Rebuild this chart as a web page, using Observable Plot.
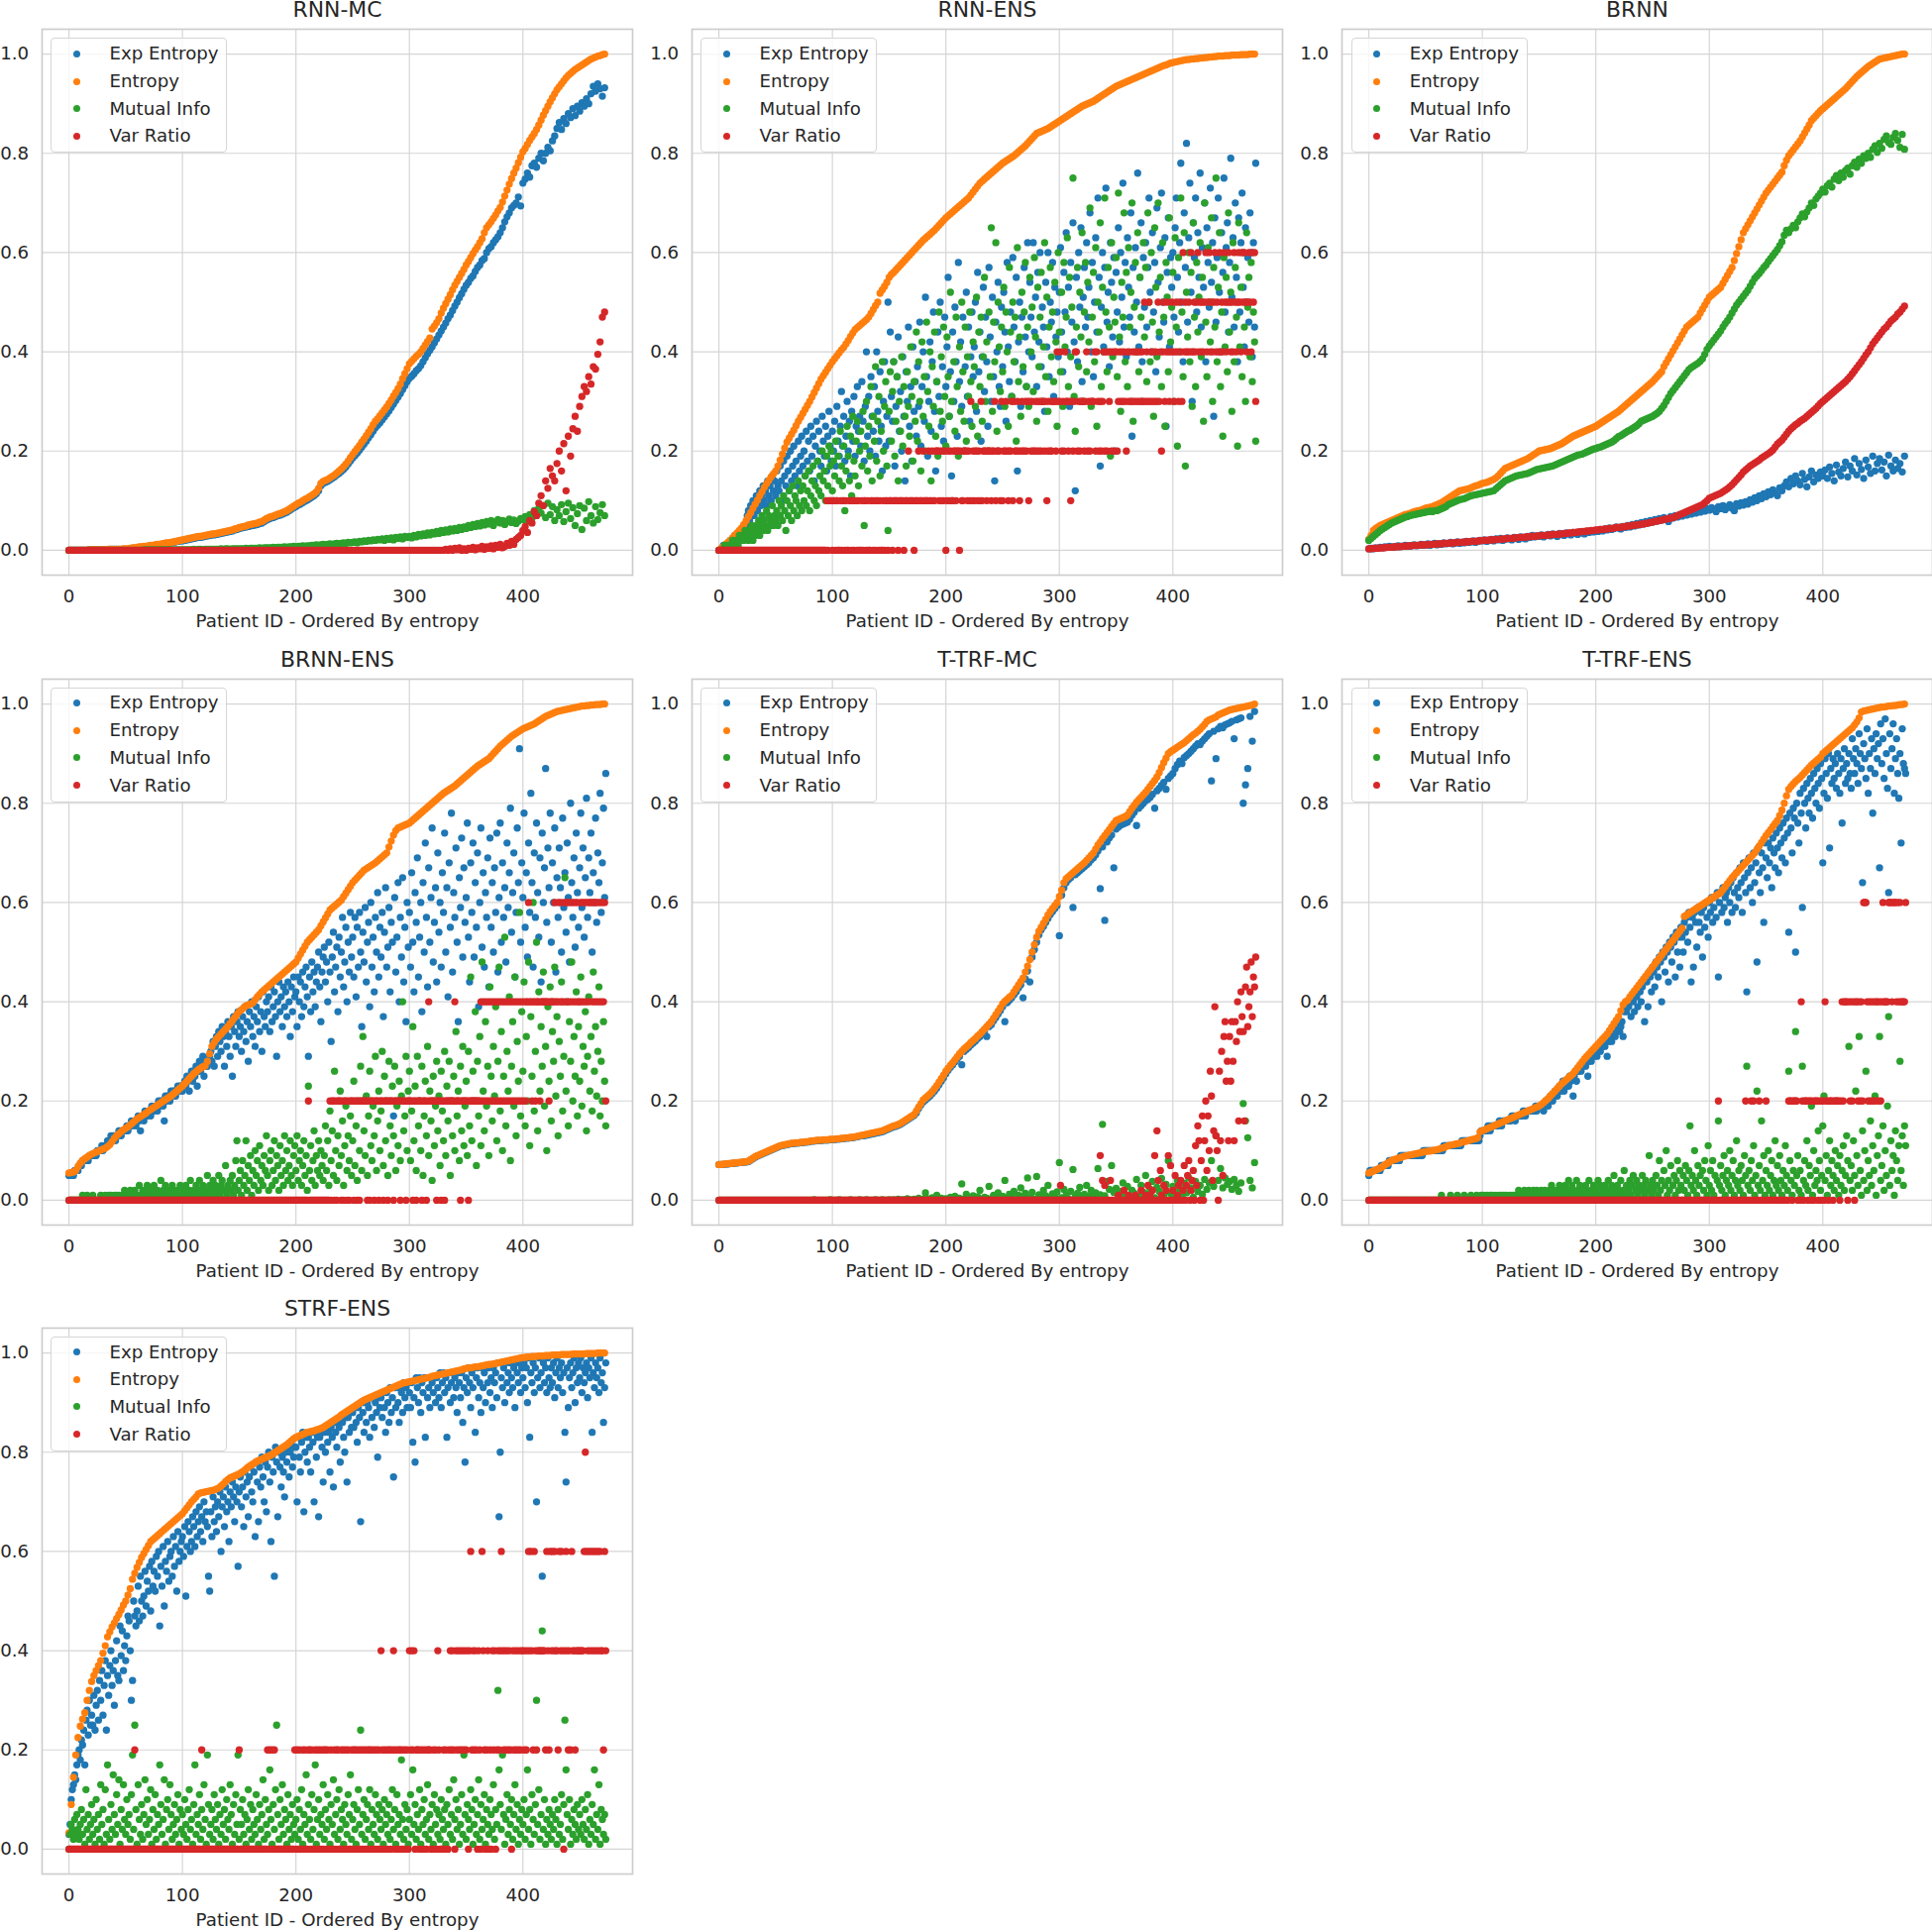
<!DOCTYPE html>
<html>
<head>
<meta charset="utf-8">
<script src="https://cdn.jsdelivr.net/npm/d3@7"></script>
<script src="https://cdn.jsdelivr.net/npm/@observablehq/plot@0.6"></script>
<style>
  html, body { margin: 0; padding: 0; background: #fff; overflow: hidden; }
  #page { position: relative; width: 1950px; height: 1948px; font-family: "DejaVu Sans", sans-serif; color: #262626; }
  .panel { position: absolute; }
  .panel svg { display: block; max-width: none; overflow: visible; }
  .legend { position: absolute; width: 178px; height: 116px; box-sizing: border-box;
            border: 1px solid #d6d6d6; border-radius: 4px; background: rgba(255,255,255,0.8); }
  .legend .sw { position: absolute; width: 7px; height: 7px; border-radius: 50%; }
  .legend .lb { position: absolute; font-size: 18.2px; line-height: 22px; white-space: nowrap; color: #262626; }
</style>
</head>
<body>
<div id="page"></div>
<script>
"use strict";

const SERIES = ["Exp Entropy", "Entropy", "Mutual Info", "Var Ratio"];
const COLORS = ["#1f77b4", "#ff7f0e", "#2ca02c", "#d62728"];
const X_TICKS = [0, 100, 200, 300, 400];
const Y_TICKS = [0, 0.2, 0.4, 0.6, 0.8, 1.0];
const X_LABEL = "Patient ID - Ordered By entropy";

// smooth series: per mille, every 2nd patient. scattered series: hundredths, every patient.
// var ratio levels: one digit per patient, tenths.

// ---- RNN-MC
const rnnMcEnt = [
  0,0,0,0,0, 0,0,0,0,1, 1,1,1,1,1, 1,1,2,2,2, 2,2,2,2,3,
  3,3,4,5,5, 6,7,7,8,8, 9,10,10,11,12, 12,13,14,15,15, 16,17,18,19,20,
  21,22,23,24,25, 26,27,28,28,29, 30,31,32,33,33, 34,35,36,37,38, 39,40,41,43,44,
  46,47,48,49,51, 52,53,54,55,57, 58,61,64,66,68, 69,71,73,74,76, 78,80,83,86,89,
  92,95,97,100,103, 105,108,111,114,118, 125,135,139,141,143, 146,149,152,156,160, 164,169,174,180,187,
  193,199,205,211,218, 224,231,238,245,253, 260,265,271,277,283, 289,296,303,311,318, 326,335,346,356,366,
  376,381,386,391,395, 400,407,414,421,428, 446,452,459,467,478, 488,497,506,515,525, 534,542,550,558,566,
  575,582,590,598,605, 612,620,628,640,650, 656,662,669,676,684, 691,702,714,726,738, 749,760,770,781,792,
  803,810,818,826,833, 840,848,857,867,877, 886,895,904,912,920, 928,934,940,946,952, 957,961,965,969,972,
  975,978,981,984,987, 990,992,994,996,997, 999,1000
];
const rnnMcExp = [
  0,0,0,0,0, 0,0,0,0,1, 1,1,1,1,1, 1,1,1,2,2, 2,2,2,2,2,
  2,2,3,4,4, 5,6,6,7,7, 8,9,9,10,11, 11,12,13,14,14, 15,16,17,18,19,
  19,20,21,22,23, 24,25,26,26,27, 28,29,30,31,31, 32,33,34,35,36, 37,38,39,41,42,
  44,45,46,47,48, 49,50,51,52,54, 55,58,61,63,65, 66,68,70,71,73, 75,77,80,83,86,
  88,91,93,96,99, 101,104,107,110,114, 120,130,135,137,139, 142,145,148,152,155, 159,163,168,174,180,
  186,191,196,202,208, 214,220,227,233,240, 247,252,257,263,269, 275,281,288,295,302, 309,316,324,332,340,
  347,351,356,362,366, 372,380,388,396,403, 410,418,426,434,442, 450,458,467,474,483, 492,500,509,517,526,
  534,540,548,553,562, 570,575,584,588,600, 608,612,620,626,632, 640,650,662,672,680, 690,695,700,712,694,
  740,748,760,752,775, 780,772,790,800,785, 800,812,805,825,835, 850,862,848,870,860, 880,872,890,876,895,
  885,902,895,910,900, 920,935,925,940,930, 915,932
];
const rnnMcMi = [
  0,0,0,0,0, 0,0,0,0,0, 0,0,0,0,0, 0,0,0,0,0, 0,0,0,0,0,
  0,0,0,0,0, 0,0,0,1,1, 1,1,1,1,1, 1,1,1,1,1, 1,1,1,1,1,
  1,1,1,1,1, 2,1,2,2,1, 2,2,2,2,2, 2,2,3,2,3, 3,2,3,3,3,
  3,3,3,4,3, 4,4,4,4,5, 4,5,5,5,5, 6,5,6,6,6, 7,6,7,7,8,
  7,8,8,9,8, 9,9,10,10,11, 10,11,12,11,12, 13,12,13,14,13, 14,15,14,16,15,
  16,17,15,18,17, 19,18,20,19,21, 20,22,21,23,20, 24,22,25,21,26, 24,27,23,28,26,
  28,25,30,27,32, 29,33,30,35,31, 36,33,38,34,40, 36,41,37,43,39, 44,40,46,42,47,
  44,50,46,52,48, 54,49,56,51,58, 53,60,50,57,62, 55,60,52,58,63, 56,61,54,59,64,
  62,68,58,72,65, 80,70,85,75,90, 66,95,72,88,60, 82,70,92,58,78, 95,64,86,50,74,
  90,42,85,60,98, 70,55,88,62,76, 92,70
];
const rnnMcVr = [
  0,0,0,0,0, 0,0,0,0,0, 0,0,0,0,0, 0,0,0,0,0, 0,0,0,0,0,
  0,0,0,0,0, 0,0,0,0,0, 0,0,0,0,0, 0,0,0,0,0, 0,0,0,0,0,
  0,0,0,0,0, 0,0,0,0,0, 0,0,0,0,0, 0,0,0,0,0, 0,0,0,0,0,
  0,0,0,0,0, 0,0,0,0,0, 0,0,0,0,0, 0,0,0,0,0, 0,0,0,0,0,
  0,0,0,0,0, 0,0,0,0,0, 0,0,0,0,0, 0,0,0,0,0, 0,0,0,0,0,
  0,0,0,0,0, 0,0,0,0,0, 0,0,0,0,0, 0,0,0,0,0, 0,0,0,0,0,
  0,0,0,0,0, 0,0,0,0,0, 0,0,0,0,0, 0,2,0,3,0, 4,1,5,0,3,
  0,4,2,6,1, 5,3,8,2,7, 4,9,3,10,6, 12,5,8,14,10, 18,12,22,26,30,
  40,48,36,60,55, 78,70,95,110,90, 140,125,165,150,140, 175,200,160,215,120, 230,190,245,270,240,
  290,310,330,320,350, 335,370,365,395,420, 470,480
];

// ---- RNN-ENS
const rnnEnsEnt = [
  0,4,8,12,16, 20,25,30,35,40, 45,52,60,68,76, 85,93,101,110,118, 127,134,141,148,154,
  160,170,182,194,206, 218,226,234,242,251, 260,268,276,284,292, 300,309,318,327,336, 345,352,359,366,373,
  380,386,392,398,404, 409,416,423,431,438, 445,449,453,457,461, 465,470,477,485,493, 500,518,525,532,540,
  550,556,560,565,570, 575,580,585,590,595, 600,605,610,615,620, 625,629,633,637,641, 645,650,655,660,665,
  670,674,678,682,686, 690,694,698,702,706, 710,716,722,728,734, 740,744,748,752,756, 760,764,768,772,776,
  780,783,786,789,792, 795,799,803,807,811, 815,820,825,830,835, 840,842,844,846,848, 850,853,856,859,862,
  865,868,871,874,877, 880,883,886,889,892, 895,897,899,901,903, 905,908,911,914,917, 920,923,926,929,932,
  935,937,939,941,943, 945,947,949,951,953, 955,957,959,961,963, 965,967,969,971,973, 975,977,978,980,982,
  983,984,985,986,987, 988,989,989,990,990, 991,991,992,992,993, 993,994,994,995,995, 996,996,996,997,997,
  997,998,998,998,998, 999,999,999,999,1000, 1000,1000
];
const rnnEnsExp = [
  0,0,0,0,1, 1,1,1,1,1, 2,2,2,2,3, 3,3,3,3,4, 4,4,5,4,5,
  7,8,6,9,8, 10,7,9,11,8, 10,12,9,11,13, 10,12,9,14,11, 13,10,15,12,14,
  11,16,13,12,17, 14,10,18,15,13, 19,16,12,20,14, 17,21,15,18,13, 22,16,19,23,17,
  20,15,24,18,22, 16,25,19,23,14, 21,26,18,24,20, 17,27,22,19,25, 16,23,28,21,18,
  24,20,26,17,29, 22,19,25,32,21, 27,18,23,30,20, 26,15,28,22,31, 19,25,33,24,27,
  21,34,26,18,29, 40,23,31,20,35, 27,24,33,19,40, 28,22,36,25,16, 30,38,21,27,50,
  22,44,31,26,38, 17,29,35,43,24, 32,20,39,27,14, 36,30,45,25,33, 18,41,28,34,23,
  37,29,46,21,33, 40,26,51,35,19, 30,42,24,38,48, 28,16,34,44,31, 50,25,37,22,47,
  33,41,55,27,36, 15,44,30,49,38, 23,58,34,42,29, 47,20,37,52,31, 45,26,39,48,35,
  41,50,28,56,36, 44,22,39,53,32, 47,38,25,57,43, 30,51,35,14,46, 40,54,33,29,49,
  37,52,44,26,58, 41,34,48,31,59, 45,38,55,16,42, 50,29,47,36,57, 43,33,62,40,54,
  47,39,62,44,51, 33,56,42,60,37, 49,45,28,54,41, 60,35,50,46,58, 31,53,43,48,39,
  52,61,44,36,56, 48,64,40,53,29, 58,46,66,42,12, 55,38,60,49,65, 34,51,57,45,62,
  47,53,68,40,58, 35,50,63,44,71, 55,17,49,60,41, 57,73,46,52,37, 62,54,43,59,20,
  56,48,65,42,60, 51,74,45,58,39, 63,53,47,68,23, 57,44,61,50,76, 41,55,66,38,59,
  49,62,45,57,71, 52,40,64,48,58, 36,69,54,43,61, 72,50,46,63,25, 56,67,41,59,53,
  60,47,65,71,55, 44,62,78,50,38, 68,57,82,46,63, 74,52,30,66,59, 71,48,64,55,76,
  45,61,53,70,38, 65,58,49,73,54, 62,27,67,46,59, 71,52,40,64,56, 75,48,61,66,44,
  58,79,51,63,45, 70,55,38,67,48, 62,72,53,41,65, 50,59,46,68,60, 39,62,45,78
];
const rnnEnsMi = [
  0,0,0,0,0, 1,0,1,1,0, 1,1,2,1,1, 2,2,1,3,2, 2,3,2,4,3,
  3,2,4,3,5, 2,4,3,5,4, 6,3,5,7,4, 6,5,8,4,7, 5,6,9,5,7,
  6,8,5,10,7, 9,6,11,8,4, 10,7,12,9,6, 13,8,11,10,7, 14,9,12,8,13,
  10,15,9,12,16, 8,11,14,17,10, 13,9,18,12,15, 11,20,14,16,10, 19,13,21,17,20,
  12,18,15,22,10, 19,14,24,17,13, 21,8,16,25,19, 14,23,11,27,18, 15,22,26,13,20,
  24,17,28,5,21, 30,16,25,19,33, 14,27,22,37,18, 26,31,15,24,38, 20,29,34,17,4,
  28,36,22,32,38, 19,26,35,14,30, 24,39,21,33,27, 17,36,29,23,41, 31,18,34,26,44,
  22,38,30,16,42, 27,35,20,46,32, 25,40,14,37,29, 44,23,34,19,48, 28,39,26,45,31,
  21,43,35,27,52, 30,10,38,24,47, 33,19,41,28,50, 36,26,45,22,39, 31,48,34,25,42,
  37,29,51,23,44, 33,47,26,39,55, 30,42,20,48,35, 65,28,46,38,62, 24,50,41,32,45,
  36,53,29,48,40, 25,57,44,31,50, 38,47,22,61,34, 43,27,52,37,48, 58,33,45,29,55,
  40,49,32,59,43, 26,53,37,47,56, 30,41,62,35,51, 28,45,57,39,48, 34,54,42,25,60,
  44,36,52,29,58, 41,47,63,33,55, 39,49,75,31,24, 45,57,37,52,43, 64,30,48,58,36,
  54,42,69,29,47, 56,38,61,25,50, 44,66,33,53,40, 71,48,36,57,45, 19,62,39,51,46,
  59,35,72,43,28, 54,47,68,38,56, 33,61,45,52,70, 26,49,58,40,64, 36,55,47,30,62,
  43,57,34,68,50, 38,60,46,27,65, 53,39,70,44,55, 33,62,47,25,58, 51,36,67,42,49,
  56,30,63,45,21, 59,40,71,48,35, 64,17,52,43,60, 38,56,29,66,47, 33,58,44,51,62,
  39,55,26,70,46, 35,61,50,42,67, 30,57,45,75,38, 53,64,33,48,23, 59,41,55,36,68,
  44,52,28,62,38, 57,47,21,66,41, 53,35,60,45,30, 64,49,55,39,58, 34,48,42,22
];
const rnnEnsVr =
  "0000000000 0000000000 0000000000 0000000000 0000000000" +
  "0000000000 0000000000 0000000000 0000000000 0000010111" +
  "0110100101 1010011010 1101001011 0100110101 1010010110" +
  "1110111101 1110111211 1101112111 2111121121 1222121212" +
  "0121211221 2202112221 2131212212 1312221222 1223122213" +
  "1223212231 3223212322 3231323223 2323233231 2322333243" +
  "3423243323 1323442323 3323423233 3424323234 2424342424" +
  "4234343432 4343343434 3434353435 3434343534 2453454345" +
  "4345435436 4544546445 4564545456 4564545645 4645465456" +
  "5454654565 4656545654 6563";

// ---- BRNN
const brnnEnt = [
  22,30,40,44,47, 50,52,54,56,58, 60,62,64,66,68, 70,72,73,74,76, 78,79,80,81,83,
  85,86,87,88,90, 92,94,96,99,102, 105,108,111,114,117, 120,121,122,123,124, 126,128,130,131,133,
  135,136,137,139,141, 143,146,150,155,160, 165,167,169,171,173, 175,177,179,181,183, 185,188,191,194,197,
  200,201,202,203,204, 205,207,209,211,213, 215,218,221,224,227, 230,232,234,236,238, 240,242,244,246,248,
  250,253,256,259,262, 265,268,271,274,277, 280,284,288,292,296, 300,304,308,312,316, 320,324,328,332,336,
  340,345,350,355,360, 370,378,386,394,402, 410,418,426,434,442, 450,454,458,462,466, 470,478,486,494,502,
  510,514,518,522,526, 530,538,546,554,562, 570,584,598,612,626, 640,648,656,664,672, 680,688,696,704,712,
  720,726,732,738,744, 750,756,762,775,786, 795,801,807,813,819, 825,833,841,849,857, 866,871,876,881,886,
  890,894,898,902,906, 910,914,918,922,926, 930,935,940,945,950, 955,959,963,967,971, 975,978,981,984,987,
  990,991,992,993,994, 995,996,997,998,999, 1000,1000
];
const brnnMi = [
  20,24,28,32,36, 40,43,46,49,52, 55,57,59,61,63, 65,67,68,70,71, 72,73,74,75,76,
  77,78,79,78,80, 80,82,84,86,88, 92,94,96,98,100, 102,103,104,106,108, 110,111,112,113,114,
  115,116,117,118,119, 120,124,128,132,136, 140,142,144,146,148, 150,151,152,153,154, 155,157,159,161,163,
  164,165,166,167,168, 169,170,172,174,176, 178,180,182,184,186, 188,190,192,193,194, 196,198,200,202,204,
  205,207,208,210,212, 214,216,218,221,225, 229,231,234,237,240, 242,245,248,251,255, 260,262,264,266,268,
  270,273,276,280,286, 292,300,308,316,322, 328,334,340,346,352, 358,364,368,371,374, 377,381,386,395,405,
  412,418,424,430,436, 442,450,457,463,470, 478,486,494,500,506, 512,518,524,532,540, 548,553,558,564,570,
  575,582,588,594,600, 606,614,622,635,645, 640,648,655,650,662, 670,678,672,682,690, 700,695,708,714,720,
  728,722,735,740,732, 748,755,745,760,752, 765,770,758,775,782, 772,788,780,795,790, 800,792,808,815,802,
  820,810,828,835,822, 818,832,840,826,812, 838,808
];
const brnnExp = [
  3,4,3,5,4, 6,5,7,6,8, 7,6,8,9,7, 8,10,9,8,10, 11,9,10,12,10,
  11,13,10,12,14, 11,13,12,15,13, 14,16,13,15,17, 14,16,15,18,16, 17,19,16,18,20,
  19,21,18,20,22, 19,23,21,24,20, 22,25,23,21,26, 24,22,27,25,23, 28,26,30,27,29,
  28,31,27,30,32, 29,33,31,28,34, 32,30,35,33,31, 36,34,32,37,35, 33,38,36,39,37,
  40,38,42,39,43, 41,45,42,44,47, 45,43,48,46,50, 47,52,49,54,51, 56,53,58,55,60,
  57,62,59,64,61, 66,63,58,68,65, 70,67,72,69,74, 71,76,73,78,75, 80,77,82,79,84,
  81,86,83,78,88, 84,90,82,87,92, 85,80,94,89,96, 91,98,93,102,97, 106,100,110,104,114,
  108,118,112,122,116, 110,126,120,130,138, 128,145,134,150,140, 132,155,143,128,148, 160,138,152,145,158,
  150,162,145,168,155, 140,172,158,150,165, 178,148,170,160,185, 152,175,163,145,182, 168,155,190,160,175,
  185,162,178,150,192, 170,160,182,165,175, 158,190
];
const brnnVr = [
  3,3,4,4,4, 5,5,5,6,6, 6,7,7,7,8, 8,8,9,9,9, 10,10,10,11,11,
  11,11,12,12,12, 13,13,13,14,14, 14,15,15,15,16, 16,16,17,17,17, 18,18,18,19,19,
  20,20,20,21,21, 21,22,22,22,23, 23,24,24,24,25, 25,26,26,26,27, 27,28,28,28,29,
  29,30,30,30,31, 31,32,32,32,33, 33,34,34,35,35, 36,36,37,37,38, 38,39,39,40,40,
  41,41,42,42,43, 43,44,44,45,46, 46,47,47,48,49, 49,50,51,51,52, 53,53,54,55,56,
  57,58,59,60,61, 62,63,64,65,66, 68,70,72,74,76, 78,80,82,84,86, 88,90,92,96,100,
  105,107,109,111,113, 115,118,121,124,128, 132,137,142,147,152, 158,162,166,170,173, 176,179,182,186,189,
  192,195,198,202,208, 214,218,222,228,234, 240,245,249,253,256, 260,263,266,270,274, 278,282,286,291,296,
  300,304,308,312,316, 320,324,328,332,336, 340,345,350,356,362, 368,374,380,387,394, 400,408,416,422,428,
  434,440,446,450,456, 462,466,470,476,480, 486,492
];

// ---- BRNN-ENS
const brnnEnsEnt = [
  55,56,57,60,68, 75,80,84,87,90, 93,95,97,99,101, 103,105,108,112,118, 125,130,134,138,142,
  145,148,152,156,160, 164,167,170,173,176, 180,183,186,189,192, 195,198,201,204,207, 210,214,218,222,226,
  230,235,240,245,250, 255,259,263,266,269, 271,280,295,310,318, 325,330,335,340,345, 350,356,362,368,374,
  380,384,388,392,394, 395,398,404,410,415, 420,424,428,432,436, 440,444,448,452,456, 460,464,468,472,476,
  480,488,496,504,512, 520,525,530,535,540, 545,553,561,569,577, 585,589,593,597,601, 605,612,619,626,633,
  640,645,650,655,660, 665,668,671,674,677, 680,684,688,692,696, 700,712,724,736,745, 750,752,754,756,758,
  760,764,768,772,776, 780,784,788,792,796, 800,804,808,812,816, 820,823,826,829,832, 835,839,843,847,851,
  855,859,863,867,871, 875,878,881,884,887, 890,895,900,905,910, 915,919,923,927,931, 935,938,941,944,947,
  950,952,954,956,958, 960,963,966,969,972, 975,977,979,981,983, 985,986,987,988,989, 990,991,992,993,994,
  995,996,996,997,997, 998,998,999,999,999, 1000,1000
];
const brnnEnsExp = [
  5,5,5,5,5, 6,6,6,6,7, 7,7,8,8,8, 8,8,8,9,9, 9,9,9,9,9,
  10,10,10,10,11, 10,11,11,11,12, 12,12,13,12,13, 13,12,13,13,14, 14,13,14,14,14,
  14,15,14,15,15, 16,15,16,16,15, 16,17,16,14,17, 17,16,18,17,17, 18,18,17,19,18,
  18,19,19,18,20, 19,20,20,19,16, 21,20,21,21,20, 22,21,22,22,21, 22,23,22,23,23,
  22,23,24,23,25, 24,22,25,26,24, 26,25,27,23,26, 28,26,27,29,25, 28,27,27,28,29,
  30,28,32,27,31, 33,29,34,32,30, 35,33,27,34,31, 36,33,29,35,25, 37,34,31,36,38,
  33,35,30,37,34, 39,32,36,28,38, 35,40,33,37,31, 39,36,41,34,38, 30,42,37,35,40,
  38,41,34,43,36, 39,42,37,29,40, 44,38,41,35,43, 39,42,37,44,40, 33,43,38,45,41,
  42,35,45,40,44, 37,46,39,43,47, 41,29,45,38,48, 42,46,39,44,47, 50,43,36,46,49,
  51,44,48,40,52, 46,32,49,54,42, 47,51,38,53,45, 50,57,43,48,55, 40,52,46,58,49,
  53,45,57,41,55, 47,58,50,35,54, 48,59,44,52,56, 39,60,47,53,42, 57,50,62,45,55,
  49,58,37,54,63, 47,51,59,42,56, 52,17,61,46,53, 64,40,57,49,65, 44,55,36,60,51,
  58,47,66,52,42, 62,56,69,45,53, 60,38,64,50,72, 57,43,67,52,61, 75,48,56,63,44,
  70,54,60,47,66, 58,74,50,63,41, 68,55,78,46,62, 57,71,52,36,65, 59,73,49,67,56,
  61,76,53,44,68, 58,72,49,64,55, 70,39,60,75,51, 66,47,62,57,69, 43,73,55,64,50,
  67,58,74,46,61, 76,52,68,57,63, 48,72,59,66,79, 54,62,70,45,58, 75,64,91,52,68,
  61,78,55,66,49, 72,58,82,64,47, 70,57,76,62,53, 69,44,74,60,67, 87,56,71,63,78,
  52,68,60,75,46, 65,57,71,63,50, 77,59,66,54,72, 61,48,80,64,57, 69,51,74,62,55,
  67,78,59,71,53, 65,81,57,69,62, 74,50,66,60,77, 56,70,64,82,58, 68,79,61,86
];
const brnnEnsMi = [
  0,0,0,0,0, 0,0,0,0,0, 0,0,1,0,0, 0,1,0,0,0, 0,1,0,0,0,
  0,0,0,1,0, 0,0,1,0,0, 1,0,1,0,0, 1,0,1,0,1, 0,0,1,0,2,
  0,1,0,1,2, 0,1,0,2,1, 0,1,3,0,1, 2,0,1,2,3, 0,1,0,2,1,
  3,0,1,2,0, 1,4,0,2,1, 3,0,1,2,0, 1,3,2,0,1, 2,0,1,3,0,
  1,2,0,3,1, 0,2,4,1,0, 2,1,3,0,1, 4,2,0,3,1, 0,2,5,1,3,
  0,2,4,1,3, 0,2,5,1,3, 4,0,2,7,1, 3,0,4,2,5, 1,3,8,12,2,
  4,6,1,8,3, 5,12,2,7,4, 9,1,6,3,10, 5,8,2,11,4, 7,3,9,6,13,
  5,2,8,10,3, 6,12,4,9,7, 2,11,5,8,3, 13,6,10,4,7, 12,5,3,9,11,
  6,13,4,8,10, 3,7,12,5,9, 2,23,6,11,4, 8,14,3,9,6, 12,5,10,7,4,
  9,15,6,12,3, 18,8,14,5,26, 10,4,13,7,22, 9,16,3,11,19, 6,13,8,17,5,
  12,24,7,15,4, 20,10,27,6,33, 14,9,21,5,17, 26,11,8,19,13, 29,6,16,22,10,
  18,30,7,25,12, 20,5,28,15,9, 23,13,27,6,19, 11,24,8,21,40, 14,17,29,10,22,
  26,8,18,35,12, 23,6,29,15,20, 10,27,5,17,24, 13,31,9,22,16, 4,25,11,19,28,
  14,21,7,26,18, 12,30,9,23,16, 28,5,20,13,25, 10,34,17,22,8, 27,14,31,11,19,
  24,9,30,15,45, 12,26,20,38,7, 28,17,33,11,48, 22,14,36,19,27, 9,43,25,16,31,
  21,39,12,28,47, 18,34,10,25,53, 15,30,22,41,8, 27,36,19,45,13, 32,24,58,17,38,
  26,44,15,33,20, 48,11,37,25,60, 18,30,52,14,42, 22,35,27,46,19, 31,10,39,24,43,
  16,34,28,47,21, 37,13,32,25,44, 18,29,65,22,40, 15,36,28,48,20, 33,25,42,17,35,
  24,45,19,31,27, 38,14,29,41,22, 33,18,46,26,35, 21,30,43,17,28, 20,36,24,15
];
const brnnEnsVr =
  "0000000000 0000000000 0000000000 0000000000 0000000000" +
  "0000000000 0000000000 0000000000 0000000000 0000000000" +
  "0000000000 0000000000 0000000000 0000000000 0000000000" +
  "0000000000 0000000000 0000000000 0000000000 0000000000" +
  "0000000000 0200000000 0000000000 2022020222 0202202022" +
  "2022020222 2220202220 2220222022 2022220222 2202222022" +
  "2220220222 2022202422 2222022202 2022222222 4222202222" +
  "2202222222 2224242424 2424242424 2424242424 2424242424" +
  "2424464424 4244424444 4442444464 4646446464 6464646464" +
  "4646464646 6464646464 6462";

// ---- T-TRF-MC
const ttrfMcEnt = [
  72,72,73,73,74, 74,75,75,76,76, 77,77,78,79,82, 85,88,90,92,94, 96,98,100,102,104,
  106,108,110,111,112, 113,114,115,115,116, 116,117,117,118,118, 119,120,120,121,121, 121,122,122,122,123,
  123,123,124,124,125, 125,126,126,127,127, 128,129,130,131,132, 133,134,135,136,137, 138,139,140,142,144,
  146,148,150,151,153, 155,158,161,164,167, 170,173,180,188,195, 202,206,210,214,219, 225,231,238,245,252,
  260,266,272,277,283, 289,295,300,305,309, 313,318,322,326,331, 335,340,345,350,355, 360,367,374,381,388,
  396,401,405,409,413, 420,427,434,441,448, 460,472,485,500,515, 530,542,550,558,566, 575,582,588,594,600,
  612,625,640,648,652, 656,660,664,668,672, 676,680,685,690,695, 700,708,716,722,729, 735,741,747,753,759,
  765,767,769,771,773, 776,783,790,796,802, 807,812,817,822,828, 834,840,846,853,862, 872,882,891,900,904,
  907,910,913,916,919, 922,926,930,934,938, 941,945,949,954,959, 965,968,970,972,974, 978,980,982,984,986,
  988,989,990,991,992, 993,994,995,996,997, 998,1000
];
const ttrfMcExp = [
  72,72,72,73,73, 74,74,75,75,76, 76,77,77,78,81, 84,87,89,91,93, 95,97,99,101,103,
  105,107,109,110,111, 112,113,114,114,115, 115,116,116,117,117, 118,119,119,120,120, 120,121,121,121,122,
  122,122,123,123,124, 124,125,125,126,126, 127,128,129,130,130, 131,132,133,134,135, 136,137,138,140,142,
  144,146,148,149,151, 153,156,159,162,165, 168,171,176,185,192, 198,202,206,210,215, 220,226,233,240,247,
  255,262,268,273,279, 285,290,273,300,304, 308,313,317,321,326, 330,335,340,330,350, 354,362,368,375,382,
  390,360,398,403,408, 414,420,428,434,408, 446,462,440,490,505, 520,535,545,552,560, 568,576,582,588,594,
  533,615,630,640,646, 650,590,656,660,664, 668,672,676,680,686, 690,696,704,628,712, 564,722,730,736,670,
  748,752,756,758,760, 762,768,776,782,755, 790,795,800,805,808, 812,818,790,825,830, 836,842,828,850,855,
  860,870,878,885,880, 892,896,900,905,910, 915,920,918,925,930, 935,940,845,945,890, 950,955,952,958,960,
  962,965,930,968,970, 972,800,837,870,975, 925,985
];
const ttrfMcMi = [
  0,0,0,0,0, 0,0,0,0,0, 0,0,0,0,0, 0,0,0,0,0, 0,0,0,0,0,
  0,0,0,0,0, 0,0,0,0,0, 0,0,0,0,0, 0,0,1,0,0, 0,0,0,0,1,
  0,0,0,1,0, 0,0,0,1,0, 0,0,1,0,0, 1,0,0,0,1, 0,0,1,0,0,
  1,0,1,0,2, 0,1,0,3,1, 0,2,1,4,0, 2,15,3,1,5, 2,10,1,4,2,
  3,1,6,2,8, 0,4,33,2,12, 5,1,9,3,7, 20,2,6,4,28, 3,10,5,15,2,
  8,40,4,12,6, 18,3,10,25,7, 14,45,5,16,2, 48,11,6,20,9, 30,4,13,8,17,
  76,5,22,10,3, 18,62,7,14,26, 4,12,30,8,20, 6,15,64,11,153, 9,38,22,70,16,
  24,6,18,35,10, 28,4,20,14,42, 8,30,16,50,12, 22,38,5,26,18, 44,9,32,80,14,
  28,10,40,20,8, 34,15,45,25,6, 38,18,30,12,42, 22,35,80,28,130, 40,64,25,45,32,
  38,22,42,30,18, 35,195,160,126,40, 25,76
];
const ttrfMcVr = [
  0,0,0,0,0, 0,0,0,0,0, 0,0,0,0,0, 0,0,0,0,0, 0,0,0,0,0,
  0,0,0,0,0, 0,0,0,0,0, 0,0,0,0,0, 0,0,0,0,0, 0,0,0,0,0,
  0,0,0,0,0, 0,0,0,0,0, 0,0,0,0,0, 0,0,0,0,0, 0,0,0,0,0,
  0,0,0,0,0, 0,0,0,0,0, 0,0,0,0,0, 0,0,0,0,0, 0,0,0,0,0,
  0,0,0,0,0, 0,0,0,0,0, 0,0,0,0,0, 0,0,0,0,0, 0,0,0,0,0,
  0,0,0,0,0, 0,0,0,0,0, 0,0,0,0,0, 0,0,0,0,0, 0,0,0,0,0,
  0,0,0,0,0, 0,0,0,0,0, 0,0,0,0,0, 0,0,0,0,0, 0,0,0,0,0,
  0,0,0,0,0, 0,0,0,0,0, 0,0,0,0,0, 0,0,0,0,0, 0,0,0,0,0,
  0,0,0,0,0, 0,0,0,0,0, 0,0,0,0,0, 0,0,0,0,0, 0,0,0,0,0,
  0,0,0,0,0, 0,0,0,0,0, 0,0,0,0,0, 0,0,0,0,0, 0,0,0,0,0,
  0,0,0,0,0, 0,0,0,0,0, 0,0,0,0,0, 0,0,0,0,0, 0,0,0,0,0,
  0,0,0,0,0, 0,0,0,0,0, 0,0,0,0,0, 0,0,0,0,0, 0,0,0,0,0,
  0,3,0,0,0, 0,0,0,0,0, 0,0,0,0,0, 0,0,0,0,0, 0,0,0,0,0,
  0,0,0,0,0, 0,0,0,0,0, 0,9,0,4,0, 3,0,0,0,0, 4,0,0,0,0,
  0,0,1,0,0, 0,0,2,0,0, 0,1,0,0,0, 0,0,1,0,0, 0,0,2,0,0,
  0,1,0,3,0, 1,0,2,0,9, 0,14,4,0,6, 1,0,3,0,2, 0,9,0,7,0,
  2,0,5,0,1, 3,0,4,0,2, 7,0,3,5,8, 0,2,4,6,0, 11,3,15,12,0,
  8,17,0,12,20, 6,17,10,26,21, 4,14,39,13,10, 0,26,12,30,5, 33,36,24,28,12,
  33,24,36,28,12, 36,32,40,16,34, 42,37,34,16,43, 47,35,39,42,48, 37,45,43,49
];

// ---- T-TRF-ENS
const ttrfEnsEnt = [
  55,57,59,61,63, 65,68,71,74,77, 80,82,83,85,86, 88,89,90,91,92, 93,94,95,96,97,
  98,99,99,100,101, 102,103,105,106,108, 110,111,112,113,114, 115,117,118,119,120, 122,123,124,126,138,
  140,142,144,146,148, 150,152,154,156,158, 160,162,164,166,168, 170,172,174,176,178, 180,182,184,186,188,
  190,193,197,201,205, 210,215,220,225,230, 235,239,243,247,251, 255,261,267,273,279, 285,290,295,300,305,
  310,315,320,325,330, 335,342,349,356,363, 370,382,394,400,403, 410,416,422,428,434, 440,446,452,458,464,
  470,476,482,488,494, 500,506,512,518,524, 530,536,542,548,572, 575,578,581,584,587, 590,593,596,599,602,
  605,608,611,614,617, 620,626,632,638,644, 650,655,660,665,670, 675,680,685,690,695, 700,707,714,721,728,
  735,741,747,753,759, 765,775,786,800,815, 828,834,839,844,848, 852,857,862,867,872, 877,881,885,889,893,
  900,904,908,912,916, 920,924,928,932,936, 940,944,948,952,958, 964,972,984,986,987, 988,989,990,991,992,
  993,994,994,995,996, 996,997,997,998,999, 999,1000
];
const ttrfEnsExp = [
  5,6,6,6,6, 6,6,6,6,6, 6,7,7,7,7, 7,7,7,8,8, 8,8,8,8,8,
  8,8,8,9,9, 9,9,9,9,9, 9,9,9,9,9, 9,9,9,9,9, 9,9,9,10,10,
  10,10,10,10,10, 10,10,10,10,10, 10,10,10,10,10, 10,11,11,11,11, 11,11,11,11,11,
  11,11,11,11,11, 11,11,12,12,12, 12,12,12,12,12, 12,12,12,12,12, 12,12,12,13,14,
  14,14,14,14,14, 15,15,14,15,15, 15,15,15,15,15, 16,16,15,16,16, 16,16,16,16,16,
  16,17,17,17,16, 17,17,17,17,17, 17,18,18,17,18, 18,18,18,18,18, 18,18,19,18,19,
  19,19,19,19,18, 19,20,20,19,20, 21,21,20,21,22, 22,21,22,23,22, 23,24,22,23,23,
  24,23,25,24,25, 21,25,26,24,26, 26,27,26,27,27, 28,27,28,25,28, 29,28,29,29,30,
  30,29,30,31,30, 31,31,32,31,32, 29,33,32,33,32, 33,34,33,34,35, 35,34,35,36,33,
  38,39,38,40,39, 40,37,41,40,38, 42,41,39,43,42, 40,43,44,36,45, 44,39,46,45,42,
  47,46,43,48,47, 45,49,48,40,50, 49,46,51,50,44, 52,51,48,53,52, 45,54,50,53,47,
  55,53,50,56,54, 57,52,58,55,44, 57,47,58,56,51, 59,56,54,58,49, 59,55,60,57,53,
  60,58,61,56,59, 61,57,62,45,60, 62,58,63,59,61, 62,56,63,60,64, 58,65,62,59,66,
  63,61,67,64,58, 68,65,62,42,66, 69,63,67,60,70, 64,68,48,71,66, 62,70,67,56,72,
  69,65,72,68,71, 63,73,70,67,74, 71,66,75,72,69, 76,73,68,77,74, 54,78,75,70,79,
  77,50,80,76,72, 82,78,59,83,80, 75,84,81,78,85, 82,77,86,83,80, 87,84,79,88,85,
  68,82,89,86,81, 90,71,87,84,89, 85,88,83,90,86, 82,89,76,87,91, 84,88,85,90,86,
  83,93,89,86,91, 88,84,94,90,87, 64,92,89,85,95, 82,90,87,93,78, 91,86,94,89,92,
  67,96,88,93,85, 97,90,83,62,94, 87,91,96,82,89, 93,86,81,90,72, 95,88,87,86
];
const ttrfEnsMi = [
  0,0,0,0,0, 0,0,0,0,0, 0,0,0,0,0, 0,0,0,0,0, 0,0,0,0,0,
  0,0,0,0,0, 0,0,0,0,0, 0,0,0,0,0, 0,0,0,0,0, 0,0,0,0,0,
  0,0,0,0,0, 0,0,0,0,0, 0,0,0,0,1, 0,0,0,0,0, 0,0,1,0,0,
  0,0,0,1,0, 0,0,0,0,1, 0,0,0,0,0, 1,0,0,0,0, 1,0,0,0,1,
  0,1,0,0,1, 0,0,1,0,1, 0,0,1,0,0, 1,0,1,0,1, 0,1,0,0,1,
  0,1,0,1,0, 1,0,2,0,1, 1,0,2,1,0, 1,2,0,1,0, 2,1,0,2,1,
  0,1,2,0,1, 2,0,1,0,2, 1,3,0,2,1, 0,2,1,3,0, 2,1,0,3,1,
  2,4,0,1,3, 2,0,1,4,2, 0,3,1,2,0, 1,3,2,0,4, 1,2,0,3,1,
  2,0,4,1,3, 0,2,1,3,0, 2,4,1,0,3, 2,5,1,0,3, 2,1,4,0,2,
  6,1,3,0,2, 4,1,3,5,0, 2,4,1,3,0, 2,5,3,1,4, 0,2,9,3,1,
  4,2,0,5,3, 1,8,2,4,0, 6,3,10,1,4, 2,7,0,3,5, 1,4,8,2,6,
  3,0,5,2,7, 4,1,6,15,3, 5,2,10,4,1, 7,3,5,0,6, 2,8,4,1,11,
  3,6,2,8,1, 5,0,4,16,3, 7,2,5,9,1, 4,6,3,10,2, 5,8,1,4,12,
  3,6,2,7,4, 1,9,5,27,3, 6,2,8,4,11, 1,5,22,3,7, 2,16,4,9,1,
  6,3,10,2,5, 8,1,4,12,3, 7,2,9,4,1, 6,3,11,5,2, 26,8,4,1,6,
  3,34,5,9,2, 6,1,27,4,8, 3,12,2,7,5, 19,1,10,3,6, 4,14,8,2,5,
  15,21,4,9,1, 6,12,3,8,5, 2,10,4,7,1, 9,3,6,11,2, 5,13,8,31,4,
  7,2,12,5,22, 9,3,33,6,1, 14,4,10,26,2, 8,5,16,3,11, 6,21,1,9,13,
  33,4,7,15,2, 10,5,19,37,3, 12,6,9,1,14, 8,4,11,28,6, 13,3,15,11
];
const ttrfEnsVr =
  "0000000000 0000000000 0000000000 0000000000 0000000000" +
  "0000000000 0000000000 0000000000 0000000000 0000000000" +
  "0000000000 0000000000 0000000000 0000000000 0000000000" +
  "0000000000 0000000000 0000000000 0000000000 0000000000" +
  "0000000000 0000000000 0000000000 0000000000 0000000000" +
  "0000000000 0000000000 0000000000 0000000000 0000000000" +
  "0000000020 0000000000 0000000000 0020000202 0000200000" +
  "2000000000 0000000000 2220222200 0420222022 0202220202" +
  "2042202220 2222202424 4404242404 4242426664 2424242442" +
  "4246444466 6466646464 4446";

// ---- STRF-ENS
const strfEnsEnt = [
  33,90,145,190,225, 248,262,275,300,320, 338,350,360,370,380, 395,410,428,438,448, 456,465,473,482,492,
  500,512,525,544,556, 568,578,588,596,604, 612,620,624,628,632, 636,640,644,648,652, 656,660,664,668,672,
  676,682,688,694,700, 705,710,716,718,719, 720,721,722,723,724, 726,728,732,736,741, 745,748,750,752,754,
  756,759,762,766,770, 773,776,779,782,784, 786,788,790,792,794, 797,800,803,806,809, 812,815,819,823,827,
  830,832,834,836,838, 840,841,842,843,845, 846,848,850,853,856, 859,862,865,868,871, 875,878,881,884,887,
  890,893,896,899,902, 905,907,909,911,913, 915,917,919,921,923, 925,927,929,931,933, 935,937,939,940,941,
  942,943,944,945,946, 947,948,949,950,951, 953,954,955,956,957, 958,959,960,961,962, 963,964,965,966,968,
  969,970,970,971,972, 972,973,974,975,976, 977,977,978,979,980, 981,982,983,984,985, 986,987,988,989,990,
  991,991,992,992,993, 993,993,994,994,994, 995,995,995,996,996, 996,996,997,997,997, 997,997,998,998,998,
  998,998,998,999,999, 999,999,999,1000,1000, 1000,1000
];
const strfEnsExp = [
  3,5,10,12,13, 15,14,17,19,20, 18,22,21,24,17, 26,28,23,30,25, 27,25,31,24,29,
  32,26,34,30,36, 27,33,38,24,35, 31,37,40,33,36, 29,38,42,35,34, 45,39,44,36,41,
  38,43,47,46,40, 30,34,50,47,45, 48,53,46,55,50, 47,51,56,49,54, 52,57,48,58,53,
  56,52,59,55,60, 45,57,53,61,49, 58,56,62,54,59, 60,55,63,57,61, 52,64,58,60,62,
  63,59,65,51,61, 66,64,60,62,67, 65,61,68,63,66, 69,64,67,62,70, 66,68,65,55,52,
  68,63,71,66,69, 64,70,67,72,60, 69,71,65,73,68, 70,62,72,69,74, 71,66,73,70,57,
  72,75,69,73,65, 76,71,74,67,75, 77,72,70,76,63, 78,74,66,77,73, 79,75,70,78,68,
  77,80,74,62,79, 76,55,81,78,67, 80,77,73,79,76, 71,80,78,81,75, 80,82,77,79,81,
  81,70,83,79,76, 82,84,68,80,83, 78,83,81,76,84, 82,70,84,79,83, 67,83,84,81,74,
  84,80,85,82,84, 76,85,83,73,86, 84,81,86,85,78, 87,86,83,80,87, 74,87,84,88,85,
  88,85,89,86,82, 89,87,66,90,88, 84,90,86,90,89, 83,91,87,91,85, 90,88,79,91,89,
  91,87,92,89,84, 92,90,86,93,88, 91,75,93,89,93, 90,86,93,92,88, 94,91,93,89,94,
  92,89,94,82,91, 78,95,93,90,95, 88,94,92,95,83, 95,91,93,89,95, 94,92,95,90,95,
  93,91,96,89,94, 96,92,95,83,93, 96,90,94,96,91, 95,93,88,96,94, 91,96,86,93,78,
  95,92,97,94,89, 96,93,97,84,95, 97,91,94,88,97, 93,96,90,97,94, 97,92,95,89,97,
  94,96,91,98,67, 80,95,93,97,90, 98,94,96,92,98, 95,93,97,89,98, 96,94,98,92,97,
  95,98,93,97,90, 99,83,96,94,98, 92,97,70,95,99, 93,96,55,98,94, 97,92,99,95,93,
  97,94,98,91,96, 99,93,97,95,98, 92,96,84,74,97, 89,95,98,93,96, 99,90,97,94,98,
  95,99,92,97,94, 96,98,91,97,95, 99,84,96,93,98, 95,97,92,99,94, 96,86,93,98
];
const strfEnsMi = [
  0,3,5,4,2, 6,3,7,4,2, 5,8,3,6,1, 12,4,7,2,5, 9,3,6,1,10,
  4,7,2,13,5, 8,1,12,3,17, 6,2,9,4,15, 7,3,11,5,14, 1,8,4,13,6,
  3,10,5,7,2, 11,19,4,25,8, 1,13,6,3,9, 2,7,14,5,10, 3,6,12,1,8,
  4,11,2,7,5, 17,9,3,6,14, 1,8,10,4,13, 7,2,5,9,3, 6,11,1,8,4,
  7,3,10,5,2, 8,12,4,6,1, 9,17,3,7,5, 11,2,8,4,13, 6,1,19,9,3,
  5,8,2,11,6, 4,9,1,7,3, 12,5,8,2,10, 6,4,13,7,1, 9,3,11,5,19,
  2,8,5,10,3, 7,1,6,12,4, 9,2,8,5,3, 11,6,1,9,4, 7,14,2,10,5,
  3,8,16,6,1, 9,4,12,25,7, 2,10,5,13,3, 8,6,1,11,4, 7,2,9,5,3,
  6,10,2,8,4, 12,1,7,5,15, 3,9,6,2,11, 4,8,17,1,6, 10,3,7,5,13,
  2,8,4,11,6, 1,9,5,14,3, 7,10,2,12,4, 8,6,1,9,5, 3,11,7,15,2,
  6,9,4,1,8, 12,5,24,3,7, 10,2,6,9,4, 12,1,8,5,3, 11,7,2,9,6,
  4,8,1,10,5, 7,3,9,2,6, 12,4,8,1,11, 5,7,3,18,6, 2,9,4,8,1,
  6,11,3,16,5, 9,2,7,4,12, 1,8,5,10,3, 6,13,2,7,4, 9,1,11,5,8,
  3,7,2,10,6, 4,8,1,9,5, 12,3,7,2,14, 6,10,4,8,1, 5,11,3,19,7,
  2,9,6,4,12, 8,1,5,10,3, 7,14,2,9,4, 6,11,1,8,5, 3,10,7,4,13,
  2,8,5,32,16, 9,4,19,7,1, 6,11,3,8,5, 10,2,7,13,4, 9,1,6,3,8,
  5,10,2,7,16, 4,8,1,11,6, 3,9,30,5,12, 2,7,44,4,10, 1,6,3,8,5,
  2,7,4,10,6, 1,8,3,5,11, 2,9,26,16,7, 4,10,1,6,3, 8,5,2,9,4,
  7,3,10,5,2, 8,4,11,1,6, 3,9,5,16,2, 7,4,13,1,8, 6,3,7,2
];
const strfEnsVr =
  "0000000000 0000000000 0000000000 0000000000 0000000000" +
  "0000000020 0000000000 0000000000 0000000000 0000000000" +
  "0000000000 0000000200 0000000000 0000000000 0000000000" +
  "2000000000 0000000000 0000020202 0200000000 0000000002" +
  "0202002020 0220200202 0202022020 0200202200 2020202002" +
  "0220202020 2020220202 0202042020 2022024202 0220202020" +
  "4242402220 2020202220 0202042000 2020024242 0424242424" +
  "2404624242 0420642024 0204240242 4642424242 0424242424" +
  "4242464642 6424444444 2642646464 4264640464 2426442444" +
  "4444686464 6464646464 4264";

// ---- decoding: array index is the patient id
const half = (v, d) => v.map((y, i) => ({ x: i * 2, y: y / d }));
const each = (v, d) => v.map((y, i) => ({ x: i, y: y / d }));
const steps = (s) => s.replace(/\s+/g, "").split("").map((c, i) => ({ x: i, y: +c / 10 }));

const PANELS = [
  { title: "RNN-MC", col: 0, row: 0,
    data: [half(rnnMcExp, 1000), half(rnnMcEnt, 1000), half(rnnMcMi, 1000), half(rnnMcVr, 1000)] },
  { title: "RNN-ENS", col: 1, row: 0,
    data: [each(rnnEnsExp, 100), half(rnnEnsEnt, 1000), each(rnnEnsMi, 100), steps(rnnEnsVr)] },
  { title: "BRNN", col: 2, row: 0,
    data: [half(brnnExp, 1000), half(brnnEnt, 1000), half(brnnMi, 1000), half(brnnVr, 1000)] },
  { title: "BRNN-ENS", col: 0, row: 1,
    data: [each(brnnEnsExp, 100), half(brnnEnsEnt, 1000), each(brnnEnsMi, 100), steps(brnnEnsVr)] },
  { title: "T-TRF-MC", col: 1, row: 1,
    data: [half(ttrfMcExp, 1000), half(ttrfMcEnt, 1000), half(ttrfMcMi, 1000), each(ttrfMcVr, 100)] },
  { title: "T-TRF-ENS", col: 2, row: 1,
    data: [each(ttrfEnsExp, 100), half(ttrfEnsEnt, 1000), each(ttrfEnsMi, 100), steps(ttrfEnsVr)] },
  { title: "STRF-ENS", col: 0, row: 2,
    data: [each(strfEnsExp, 100), half(strfEnsEnt, 1000), each(strfEnsMi, 100), steps(strfEnsVr)] },
];

// ---- layout (px), frames of the 3x3 grid
const COL_X = [41.7, 697.9, 1354];
const ROW_Y = [29.2, 684.6, 1339.7];
const FW = 596, FH = 551;
const M = { left: 44, top: 40, right: 4, bottom: 60 };
const LEG_ROWS = [14.9, 42.8, 70.3, 98.2];
const GRID = { stroke: "#d5d5d5", strokeOpacity: 1, strokeWidth: 1.2 };
const DOT_R = 3.65;

function panelPlot(p) {
  const dots = p.data.map((d, i) => Plot.dot(d, { x: "x", y: "y", r: DOT_R, fill: COLORS[i] }));
  return Plot.plot({
    width: M.left + FW + M.right, height: M.top + FH + M.bottom,
    marginLeft: M.left, marginTop: M.top, marginRight: M.right, marginBottom: M.bottom,
    style: { fontFamily: "DejaVu Sans", color: "#262626", background: "transparent", overflow: "visible" },
    x: { domain: [-23.65, 496.65] },
    y: { domain: [-0.05, 1.05] },
    marks: [
      Plot.gridX(X_TICKS, GRID),
      Plot.gridY(Y_TICKS, GRID),
      ...dots,
      Plot.frame({ stroke: "#cdcdcd", strokeWidth: 1.7 }),
      Plot.axisX(X_TICKS, { tickSize: 0, tickPadding: 14.5, fontSize: 18.2, label: null }),
      Plot.axisY(Y_TICKS, { tickSize: 0, tickPadding: 13.4, fontSize: 18.2, label: null, tickFormat: d3.format(".1f") }),
      Plot.text([p.title], { frameAnchor: "top", dy: -19.5, lineAnchor: "middle", fontSize: 21.9, fill: "#262626" }),
      Plot.text([X_LABEL], { frameAnchor: "bottom", dy: 46.6, lineAnchor: "middle", fontSize: 18.2, fill: "#262626" }),
    ],
  });
}

function legend() {
  const box = document.createElement("div");
  box.className = "legend";
  box.style.left = (M.left + 9.5) + "px";
  box.style.top = (M.top + 9) + "px";
  SERIES.forEach((name, i) => {
    const sw = document.createElement("span");
    sw.className = "sw";
    sw.style.background = COLORS[i];
    sw.style.left = (24.8 - 3.5) + "px";
    sw.style.top = (LEG_ROWS[i] - 3.5) + "px";
    const lb = document.createElement("span");
    lb.className = "lb";
    lb.textContent = name;
    lb.style.left = "58.2px";
    lb.style.top = (LEG_ROWS[i] - 11) + "px";
    box.appendChild(sw);
    box.appendChild(lb);
  });
  return box;
}

const page = document.getElementById("page");
PANELS.forEach((p) => {
  const div = document.createElement("div");
  div.className = "panel";
  div.style.left = (COL_X[p.col] - M.left) + "px";
  div.style.top = (ROW_Y[p.row] - M.top) + "px";
  div.appendChild(panelPlot(p));
  div.appendChild(legend());
  page.appendChild(div);
});
</script>
</body>
</html>
